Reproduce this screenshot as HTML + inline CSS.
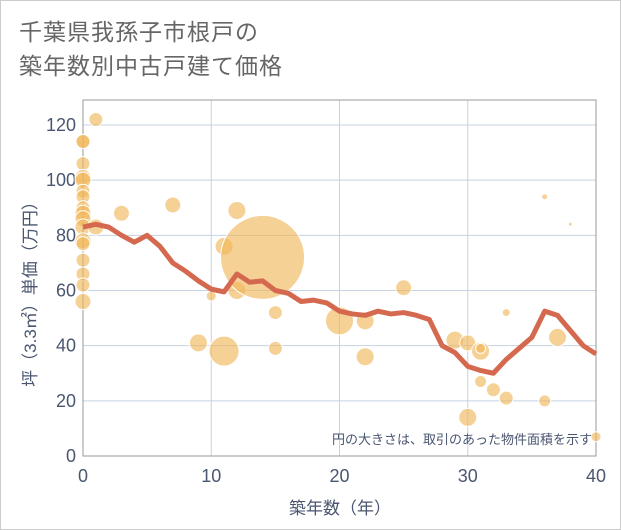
<!DOCTYPE html>
<html><head><meta charset="utf-8"><style>
body{margin:0;background:#fff;}
#wrap{position:relative;width:619px;height:528px;border:1px solid #ccc;background:#fff;overflow:hidden;font-family:"Liberation Sans","Noto Sans CJK JP",sans-serif;}
#title{position:absolute;left:18px;top:14px;font-size:23px;line-height:34px;color:#666;letter-spacing:1px;}
</style></head><body>
<div id="wrap">
<div id="title">千葉県我孫子市根戸の<br>築年数別中古戸建て価格</div>
<svg id="chart" width="621" height="530" style="position:absolute;left:-1px;top:-1px"></svg>
</div>
<script>
const xTicks=[0,10,20,30,40];
const yTicks=[0,20,40,60,80,100,120];
const lineYears=[0,1,2,3,4,5,6,7,8,9,10,11,12,13,14,15,16,17,18,19,20,21,22,23,24,25,26,27,28,29,30,31,32,33,34,35,36,37,38,39,40];
const lineValues=[83,84,83,80,77.5,80,76,70,67,63.5,60.5,59.5,66,63,63.5,60,59,56,56.5,55.5,52.5,51.5,51,52.5,51.5,52,51,49.5,40,37.5,32.5,31,30,35,39,43,52.5,51,45.5,40,37];
const bubbleX=[0,0,0,0,0,0,0,0,0,0,0,0,0,0,0,0,0,1,1,3,7,9,10,11,11,12,12,14,15,15,20,22,22,25,29,30,31,31,31,32,33,33,30,36,36,37,38,40];
const bubbleY=[114,114,106,101,100,96,94,90,88,86,83,78,77,71,66,62,56,122,83,88,91,41,58,76,38,89,60,72,52,39,49,49,36,61,42,41,38,39,27,24,21,52,14,94,20,43,84,7];
const bubbleR=[7,7,7,8,8,7,7,7,8,8,8,8,7,7,7,7,8,7,8,8,8,9,5,9,15,9,9,42,7,7,14,9,9,8,9,8,9,5,6,7,7,4,9,3,6,9,2,5];
const svg=document.getElementById('chart');const NS='http://www.w3.org/2000/svg';
const X0=83,X1=596,Y0=456,Y1=125;
const xs=v=>X0+(v-0)/40*(X1-X0);
const ys=v=>Y0-(v-0)/120*(Y0-Y1);
function mk(t,a){const e=document.createElementNS(NS,t);for(const k in a)e.setAttribute(k,a[k]);svg.appendChild(e);return e;}
yTicks.forEach(v=>{const l=mk('line',{x1:X0,x2:X1,y1:ys(v),y2:ys(v),stroke:'#c5d3e3','stroke-width':1});


const t=mk('text',{x:X0-7,y:ys(v)+6,'text-anchor':'end','font-size':18,fill:'#4a5670'});t.textContent=v;

});
xTicks.forEach(v=>{const l=mk('line',{x1:xs(v),x2:xs(v),y1:Y1-25,y2:Y0,stroke:'#c5d3e3','stroke-width':1});


const t=mk('text',{x:xs(v),y:Y0+26,'text-anchor':'middle','font-size':18,fill:'#4a5670'});t.textContent=v;

});
const frame=mk('rect',{x:X0,y:Y1-25,width:X1-X0,height:Y0-Y1+25,fill:'none',stroke:'#999','stroke-width':1});


bubbleX.forEach((bx,i)=>{const c=mk('circle',{cx:xs(bx),cy:ys(bubbleY[i]),r:bubbleR[i],fill:'#f0b456','fill-opacity':0.62,stroke:'#fff','stroke-width':1});

});
const p=mk('polyline',{points:lineYears.map((yr,i)=>xs(yr)+','+ys(lineValues[i])).join(' '),fill:'none',stroke:'#d4694f','stroke-width':5,'stroke-linejoin':'round'});


const note=mk('text',{x:592,y:444,'text-anchor':'end','font-size':13,fill:'#4a5670'});note.textContent='円の大きさは、取引のあった物件面積を示す';


const xt=mk('text',{x:340,y:514,'text-anchor':'middle','font-size':17,fill:'#4a5670'});xt.textContent='築年数（年）';


const yt=mk('text',{x:0,y:0,'text-anchor':'middle','font-size':17,fill:'#4a5670',transform:'translate(36,290) rotate(-90)'});yt.textContent='坪（3.3㎡）単価（万円）';


</script>
</body></html>
